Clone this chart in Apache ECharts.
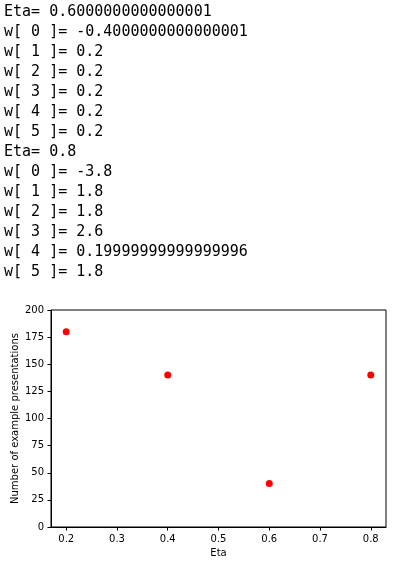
<!DOCTYPE html>
<html>
<head>
<meta charset="utf-8">
<script src="https://cdn.jsdelivr.net/npm/echarts@6/dist/echarts.min.js"></script>
<style>
  html, body { margin: 0; padding: 0; background: #fff; }
  #out {
    position: absolute; left: 4px; top: 1px; margin: 0;
    font-family: 'DejaVu Sans Mono', monospace; font-size: 15px; line-height: 20px;
    color: #000; white-space: pre;
  }
  #chart { position: absolute; left: 0; top: 0; width: 401px; height: 563px; }
</style>
</head>
<body>
<div id="chart"></div>
<pre id="out"></pre>
<script type="text/javascript">
// printed output of the training loop
var outputLines = [
  'Eta= 0.6000000000000001',
  'w[ 0 ]= -0.4000000000000001',
  'w[ 1 ]= 0.2',
  'w[ 2 ]= 0.2',
  'w[ 3 ]= 0.2',
  'w[ 4 ]= 0.2',
  'w[ 5 ]= 0.2',
  'Eta= 0.8',
  'w[ 0 ]= -3.8',
  'w[ 1 ]= 1.8',
  'w[ 2 ]= 1.8',
  'w[ 3 ]= 2.6',
  'w[ 4 ]= 0.19999999999999996',
  'w[ 5 ]= 1.8'
];

// scatter data
var etaValues = [0.2, 0.4, 0.6, 0.8];
var presentations = [180, 140, 40, 140];
var xTicks = [0.2, 0.3, 0.4, 0.5, 0.6, 0.7, 0.8];

document.getElementById('out').textContent = outputLines.join('\n');

var points = [];
for (var i = 0; i < etaValues.length; i++) {
  points.push([etaValues[i], presentations[i]]);
}

var chart = echarts.init(document.getElementById('chart'));
var axisFont = { fontFamily: 'DejaVu Sans', fontSize: 10, color: '#000' };

chart.setOption({
  animation: false,
  grid: {
    left: 51, top: 310, width: 335, height: 217,
    outerBoundsMode: 'none', containLabel: false,
    show: true, borderColor: '#000', borderWidth: 1, backgroundColor: '#fff'
  },
  xAxis: {
    type: 'value',
    min: 0.17, max: 0.83,
    name: 'Eta', nameLocation: 'middle', nameGap: 21, nameMoveOverlap: false,
    nameTextStyle: axisFont,
    splitLine: { show: false },
    axisLine: { show: true, lineStyle: { color: '#000', width: 1 } },
    axisTick: { show: true, inside: false, length: 3.5, customValues: xTicks, lineStyle: { color: '#000' } },
    axisLabel: {
      margin: 7, customValues: xTicks,
      formatter: function (v) { return v.toFixed(1); },
      fontFamily: 'DejaVu Sans', fontSize: 10, color: '#000'
    }
  },
  yAxis: {
    type: 'value',
    min: 0, max: 200, interval: 25,
    name: 'Number of example presentations', nameLocation: 'middle', nameGap: 31, nameMoveOverlap: false,
    nameTextStyle: axisFont,
    splitLine: { show: false },
    axisLine: { show: true, lineStyle: { color: '#000', width: 1 } },
    axisTick: { show: true, inside: false, length: 3.5, lineStyle: { color: '#000' } },
    axisLabel: { margin: 7, fontFamily: 'DejaVu Sans', fontSize: 10, color: '#000' }
  },
  series: [{
    type: 'scatter',
    data: points,
    symbol: 'circle',
    symbolSize: 7,
    itemStyle: { color: '#ff0000', opacity: 1 }
  }]
});
</script>
</body>
</html>
